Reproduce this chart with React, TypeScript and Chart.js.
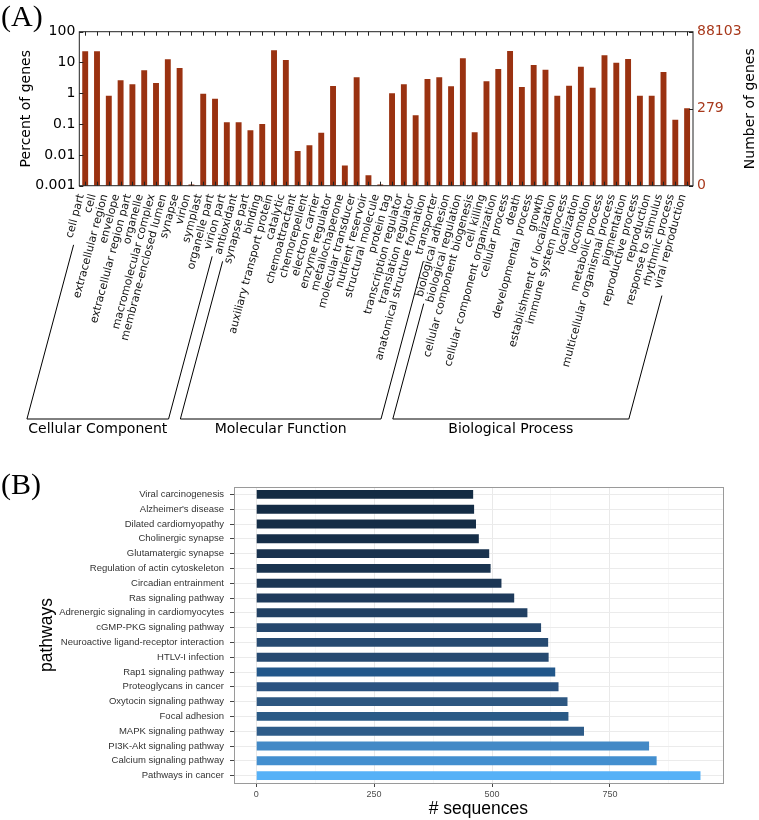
import React, { useEffect, useRef } from "react";
import { Chart, registerables } from "chart.js";
Chart.register(...registerables);

// ---------- Panel A data ----------
const goTerms = [
  "cell part", "cell", "extracellular region", "envelope", "extracellular region part",
  "organelle", "macromolecular complex", "membrane-enclosed lumen", "synapse", "virion",
  "symplast", "organelle part", "virion part", "antioxidant", "synapse part",
  "binding", "auxiliary transport protein", "catalytic", "chemoattractant", "chemorepellent",
  "electron carrier", "enzyme regulator", "metallochaperone", "molecular transducer", "nutrient reservoir",
  "structural molecule", "protein tag", "transcription regulator", "translation regulator", "anatomical structure formation",
  "transporter", "biological adhesion", "biological regulation", "cellular component biogenesis", "cell killing",
  "cellular component organization", "cellular process", "death", "developmental process", "growth",
  "establishment of localization", "immune system process", "localization", "locomotion", "metabolic process",
  "multicellular organismal process", "pigmentation", "reproductive process", "reproduction", "response to stimulus",
  "rhythmic process", "viral reproduction",
];
const goPercent = [
  23.1, 23.1, 0.84, 2.64, 1.96,
  5.58, 2.16, 12.7, 6.63, 0.0011,
  0.97, 0.67, 0.114, 0.114, 0.063,
  0.1, 24.9, 12.0, 0.0134, 0.0205,
  0.0526, 1.73, 0.0045, 3.3, 0.0022,
  0.0011, 1.0, 1.96, 0.193, 2.91,
  3.3, 1.69, 13.7, 0.054, 2.45,
  6.15, 23.6, 1.6, 8.29, 5.83,
  0.836, 1.77, 7.31, 1.52, 17.1,
  9.86, 13.0, 0.836, 0.836, 4.92,
  0.139, 0.326,
];
const goGroupNames = ["Cellular Component", "Molecular Function", "Biological Process"];
const goGroupFirst = [0, 13, 31];
const goGroupLast = [12, 30, 51];
const percentTicks = [0.001, 0.01, 0.1, 1, 10, 100];
const geneCountTicks = [0, 279, 88103];
const totalGenes = 88103;

// ---------- Panel B data ----------
const pathways = [
  "Viral carcinogenesis", "Alzheimer's disease", "Dilated cardiomyopathy", "Cholinergic synapse",
  "Glutamatergic synapse", "Regulation of actin cytoskeleton", "Circadian entrainment", "Ras signaling pathway",
  "Adrenergic signaling in cardiomyocytes", "cGMP-PKG signaling pathway", "Neuroactive ligand-receptor interaction",
  "HTLV-I infection", "Rap1 signaling pathway", "Proteoglycans in cancer", "Oxytocin signaling pathway",
  "Focal adhesion", "MAPK signaling pathway", "PI3K-Akt signaling pathway", "Calcium signaling pathway",
  "Pathways in cancer",
];
const sequenceCounts = [460, 462, 466, 472, 494, 497, 520, 547, 575, 604, 619, 620, 634, 641, 660, 662, 695, 833, 849, 942];
const pathwayColors = [
  "#132b43", "#142c45", "#152d46", "#162e48", "#19324e", "#19334f", "#1b3654", "#1e3a5b", "#214063", "#25476d",
  "#264a71", "#264a71", "#22578a", "#2a5280", "#2d5781", "#2a5a86", "#2e5c89", "#4389c6", "#438fcf", "#56b1f7",
];
const seqMajorTicks = [0, 250, 500, 750];
const seqMinorTicks = [125, 375, 625, 875];

// ---------- style constants ----------
const CANVAS_A_H = 455;
const PLOT_A_BOTTOM = 185.7;
const LABEL_ROT = 75;
const LABEL_FONT = 11;
const LABEL_OFFSET = -4;
const LABEL_PAD = 7;
const BRACKET_DROP = 233.3;
const BRACKET_GAP = 9;
const BAR_RED = "#9a3211";
const AXIS_RED = "#a8391c";

const frameA = {
  id: "frameA",
  afterDraw(chart: any) {
    const { ctx, chartArea: a, scales } = chart;
    const xs = scales.x;
    const ys = scales.y;
    const y2 = scales.y2;
    ctx.save();
    ctx.strokeStyle = "#222";
    ctx.lineWidth = 1;
    ctx.strokeRect(a.left, a.top, a.right - a.left, a.bottom - a.top);
    ctx.beginPath();
    for (let i = 0; i < goTerms.length; i++) {
      const x = Math.round(xs.getPixelForTick(i)) + 0.5;
      ctx.moveTo(x, a.bottom);
      ctx.lineTo(x, a.bottom - 4);
      ctx.moveTo(x, a.top);
      ctx.lineTo(x, a.top + 4);
    }
    for (const v of percentTicks) {
      const y = Math.round(ys.getPixelForValue(v)) + 0.5;
      ctx.moveTo(a.left, y);
      ctx.lineTo(a.left + 4, y);
    }
    for (const t of y2.ticks) {
      const y = Math.round(y2.getPixelForValue(t.value)) + 0.5;
      ctx.moveTo(a.right, y);
      ctx.lineTo(a.right - 4, y);
    }
    ctx.stroke();

    // right axis title
    ctx.save();
    ctx.translate(a.right + 57, (a.top + a.bottom) / 2);
    ctx.rotate(-Math.PI / 2);
    ctx.fillStyle = "#000";
    ctx.font = '14px "DejaVu Sans"';
    ctx.textAlign = "center";
    ctx.textBaseline = "middle";
    ctx.fillText("Number of genes", 0, 0);
    ctx.restore();

    // group brackets
    const rad = (LABEL_ROT * Math.PI) / 180;
    const lh = LABEL_FONT * 1.2;
    const shift = LABEL_OFFSET + (lh / 2) * Math.sin(rad);
    const y0 = a.bottom + LABEL_PAD;
    const baseY = a.bottom + BRACKET_DROP;
    ctx.font = `${LABEL_FONT}px "DejaVu Sans"`;
    const ray = (i: number) => {
      const x = xs.getPixelForTick(i) + shift;
      const L = ctx.measureText(goTerms[i]).width + BRACKET_GAP;
      return {
        tx: x - L * Math.cos(rad),
        ty: y0 + L * Math.sin(rad),
        bx: x - (baseY - y0) / Math.tan(rad),
      };
    };
    ctx.strokeStyle = "#000";
    for (let g = 0; g < goGroupNames.length; g++) {
      const l = ray(goGroupFirst[g]);
      const r = ray(goGroupLast[g]);
      ctx.beginPath();
      ctx.moveTo(l.tx, l.ty);
      ctx.lineTo(l.bx, baseY);
      ctx.lineTo(r.bx, baseY);
      ctx.lineTo(r.tx, r.ty);
      ctx.stroke();
      ctx.fillStyle = "#000";
      ctx.font = '14px "DejaVu Sans"';
      ctx.textAlign = "center";
      ctx.textBaseline = "top";
      ctx.fillText(goGroupNames[g], (l.bx + r.bx) / 2, baseY + 3);
      ctx.font = `${LABEL_FONT}px "DejaVu Sans"`;
    }
    ctx.restore();
  },
};

const frameB = {
  id: "frameB",
  afterDraw(chart: any) {
    const { ctx, chartArea: a } = chart;
    ctx.save();
    ctx.strokeStyle = "#9a9a9a";
    ctx.lineWidth = 1;
    ctx.strokeRect(Math.round(a.left) + 0.5, Math.round(a.top) + 0.5, Math.round(a.right - a.left), Math.round(a.bottom - a.top));
    ctx.restore();
  },
};

export default function App() {
  const refA = useRef<HTMLCanvasElement>(null);
  const refB = useRef<HTMLCanvasElement>(null);

  useEffect(() => {
    const chartA = new Chart(refA.current as HTMLCanvasElement, {
      type: "bar",
      data: {
        labels: goTerms,
        datasets: [
          {
            data: goPercent,
            backgroundColor: BAR_RED,
            barPercentage: 0.5,
            categoryPercentage: 1,
          },
        ],
      },
      options: {
        animation: false,
        responsive: false,
        devicePixelRatio: 1,
        layout: { padding: { top: 31.7, left: 0, right: 0, bottom: 0 } },
        plugins: { legend: { display: false }, tooltip: { enabled: false } },
        scales: {
          x: {
            grid: { display: false, drawTicks: false },
            border: { display: false },
            ticks: {
              autoSkip: false,
              minRotation: LABEL_ROT,
              maxRotation: LABEL_ROT,
              labelOffset: LABEL_OFFSET,
              padding: LABEL_PAD,
              font: { family: '"DejaVu Sans"', size: LABEL_FONT },
              color: "#111",
            },
            afterFit: (s: any) => {
              s.height = CANVAS_A_H - PLOT_A_BOTTOM;
            },
          },
          y: {
            type: "logarithmic",
            position: "left",
            min: 0.001,
            max: 100,
            grid: { display: false, drawTicks: false },
            border: { display: false },
            afterBuildTicks: (s: any) => {
              s.ticks = percentTicks.map((v) => ({ value: v }));
            },
            ticks: {
              callback: (v: any) => String(v),
              font: { family: '"DejaVu Sans"', size: 14 },
              color: "#000",
              padding: 4,
            },
            title: {
              display: true,
              text: "Percent of genes",
              font: { family: '"DejaVu Sans"', size: 14 },
              color: "#000",
              padding: { top: 17.6, bottom: 0 },
            },
            afterFit: (s: any) => {
              s.width = 79.3;
            },
          },
          y2: {
            type: "logarithmic",
            position: "right",
            min: (totalGenes * 0.001) / 100,
            max: totalGenes,
            grid: { display: false, drawTicks: false },
            border: { display: false },
            afterBuildTicks: (s: any) => {
              s.ticks = geneCountTicks.map((v) => ({ value: v === 0 ? s.min : v }));
            },
            ticks: {
              callback: (_v: any, i: number) => String(geneCountTicks[i]),
              font: { family: '"DejaVu Sans"', size: 14 },
              color: AXIS_RED,
              padding: 4,
            },
            afterFit: (s: any) => {
              s.width = 66;
            },
          },
        },
      } as any,
      plugins: [frameA],
    });

    const maxSeq = Math.max(...sequenceCounts);
    const isMajor = (c: any) => !!c.tick && seqMajorTicks.includes(c.tick.value);
    const chartB = new Chart(refB.current as HTMLCanvasElement, {
      type: "bar",
      data: {
        labels: pathways,
        datasets: [
          {
            data: sequenceCounts,
            backgroundColor: pathwayColors,
            barPercentage: 0.6,
            categoryPercentage: 1,
          },
        ],
      },
      options: {
        indexAxis: "y",
        animation: false,
        responsive: false,
        devicePixelRatio: 1,
        layout: { padding: { top: 32, right: 36.3, left: 0, bottom: 0 } },
        plugins: { legend: { display: false }, tooltip: { enabled: false } },
        scales: {
          x: {
            type: "linear",
            min: -0.05 * maxSeq,
            max: 1.05 * maxSeq,
            afterBuildTicks: (s: any) => {
              s.ticks = [...seqMajorTicks, ...seqMinorTicks].sort((p, q) => p - q).map((v) => ({ value: v }));
            },
            grid: {
              color: (c: any) => (isMajor(c) ? "#e9e9e9" : "#f4f4f4"),
              lineWidth: (c: any) => (isMajor(c) ? 1 : 0.7),
              tickColor: (c: any) => (isMajor(c) ? "#444" : "rgba(0,0,0,0)"),
              tickLength: 4,
            },
            border: { display: false },
            ticks: {
              autoSkip: false,
              maxRotation: 0,
              callback: (v: any) => (seqMajorTicks.includes(v) ? String(v) : ""),
              font: { family: '"Liberation Sans"', size: 9 },
              color: "#4d4d4d",
              padding: 2,
            },
            title: {
              display: true,
              text: "# sequences",
              font: { family: '"Liberation Sans"', size: 17.5 },
              color: "#000",
              padding: { top: 0, bottom: 0.5 },
            },
            afterFit: (s: any) => {
              s.height = 37;
            },
          },
          y: {
            grid: { offset: false, color: "#ebebeb", tickColor: "#444", tickLength: 4 },
            border: { display: false },
            ticks: {
              autoSkip: false,
              font: { family: '"Liberation Sans"', size: 9.5 },
              color: "#333",
              padding: 6,
            },
            title: {
              display: true,
              text: "pathways",
              font: { family: '"Liberation Sans"', size: 17.5 },
              color: "#000",
              padding: { top: 37, bottom: 0 },
            },
            afterFit: (s: any) => {
              s.width = 234;
            },
          },
        },
      } as any,
      plugins: [frameB],
    });

    return () => {
      chartA.destroy();
      chartB.destroy();
    };
  }, []);

  return (
    <div
      style={{
        position: "absolute",
        left: 0,
        top: 0,
        width: 759,
        height: 820,
        background: "#fff",
        overflow: "hidden",
      }}
    >
      <canvas ref={refA} width={759} height={CANVAS_A_H} style={{ position: "absolute", left: 0, top: 0, display: "block" }} />
      <canvas ref={refB} width={759} height={365} style={{ position: "absolute", left: 0, top: 455, display: "block" }} />
      <div
        style={{
          position: "absolute",
          left: 1,
          top: -1,
          fontFamily: '"Liberation Serif"',
          fontSize: 30,
          lineHeight: "34px",
          color: "#000",
        }}
      >
        (A)
      </div>
      <div
        style={{
          position: "absolute",
          left: 1,
          top: 467,
          fontFamily: '"Liberation Serif"',
          fontSize: 30,
          lineHeight: "34px",
          color: "#000",
        }}
      >
        (B)
      </div>
    </div>
  );
}
